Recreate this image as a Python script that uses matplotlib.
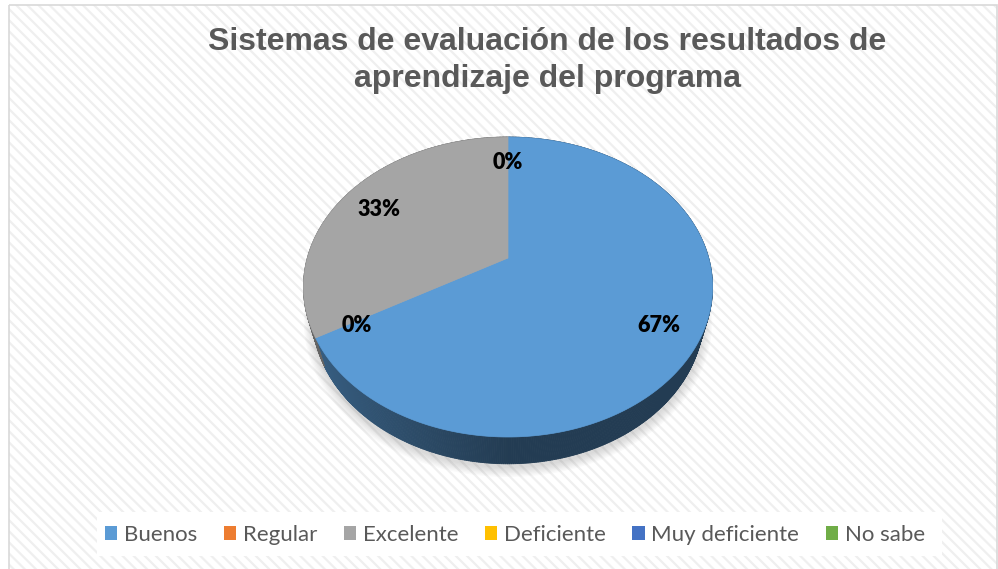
import numpy as np
import matplotlib.pyplot as plt
from matplotlib.patches import Rectangle, Polygon, Patch
from matplotlib.collections import PolyCollection

# data
categories = ["Buenos", "Regular", "Excelente", "Deficiente", "Muy deficiente", "No sabe"]
counts = [2, 0, 1, 0, np.nan, np.nan]   # last two have no data (no label shown)
colors = ["#5B9BD5", "#ED7D31", "#A5A5A5", "#FFC000", "#4472C4", "#70AD47"]
title_lines = ["Sistemas de evaluación de los resultados de", "aprendizaje del programa"]

# view settings for the Excel-like 3d pie (pixels of the 998x569 image)
CX, CY, SCALE = 508, 258, 200.7
TILT = np.radians(46)
DIST = 3.59
DEPTH = 0.22

plt.rcParams["hatch.linewidth"] = 1.6


def project(theta, r=1.0, w=0.0):
    # disk point (angle, radius, height) -> image pixels, with perspective
    u = r * np.cos(theta)
    v = r * np.sin(theta)
    y3 = v * np.sin(TILT) + w * np.cos(TILT)
    d = v * np.cos(TILT) - w * np.sin(TILT)
    k = DIST / (DIST + d)
    return CX + SCALE * u * k, CY - SCALE * y3 * k


def shade(theta):
    # side lighting: lighter on the left, dark at the front/right
    return 0.39 + 0.25 * np.clip(-np.cos(theta), 0, 1)


def scale_color(c, f):
    rgb = np.array(plt.matplotlib.colors.to_rgb(c))
    return tuple(np.clip(rgb * f, 0, 1))


vals = np.nan_to_num(np.array(counts, dtype=float))
frac = vals / vals.sum()
ends = 90 - 360 * np.cumsum(frac)      # clockwise from 12 o'clock
starts = ends + 360 * frac

fig = plt.figure(figsize=(9.98, 5.69), dpi=100)
ax = fig.add_axes([0, 0, 1, 1])
ax.set_xlim(0, 998)
ax.set_ylim(569, 0)
ax.axis("off")

# chart area background with the light diagonal texture
ax.add_patch(Rectangle((9, 5), 988, 580, facecolor="white", edgecolor="none"))
ax.add_patch(Rectangle((9, 5), 988, 580, facecolor="none", edgecolor="#efefef",
                       hatch="\\" * 3, lw=0))
ax.add_patch(Rectangle((9, 5), 988, 580, facecolor="none", edgecolor="#d9d9d9", lw=1.2))

# soft shadow under the pie
tt = np.linspace(0, 2 * np.pi, 200)
for i in range(8):
    sx, sy = project(tt, 1.0 + 0.006 * i, -DEPTH)
    ax.add_patch(Polygon(np.column_stack([sx, sy + 4]), closed=True,
                         facecolor="#808080", edgecolor="none", alpha=0.04))

# sides of the slices
quads, qcols = [], []
for i in range(len(categories)):
    if frac[i] <= 0:
        continue
    th = np.radians(np.linspace(ends[i], starts[i], int(abs(starts[i] - ends[i])) * 2 + 2))
    for a, b in zip(th[:-1], th[1:]):
        x1, y1 = project(a)
        x2, y2 = project(b)
        x3, y3 = project(b, w=-DEPTH)
        x4, y4 = project(a, w=-DEPTH)
        quads.append([(x1, y1), (x2, y2), (x3, y3), (x4, y4)])
        qcols.append(scale_color(colors[i], shade(0.5 * (a + b))))
ax.add_collection(PolyCollection(quads, facecolors=qcols, edgecolors=qcols, linewidths=0.6))

# top faces
for i in range(len(categories)):
    if frac[i] <= 0:
        continue
    th = np.radians(np.linspace(ends[i], starts[i], 300))
    px, py = project(th)
    pts = np.column_stack([np.r_[CX, px], np.r_[CY, py]])
    ax.add_patch(Polygon(pts, closed=True, facecolor=colors[i], edgecolor=colors[i], lw=0.5))

# percentage labels
for i in range(len(categories)):
    if np.isnan(counts[i]):
        continue
    mid = np.radians(0.5 * (ends[i] + starts[i]))
    lx, ly = project(mid, 0.8)
    ax.text(lx, ly + 5, f"{frac[i] * 100:.0f}%", ha="center", va="center",
            fontsize=15.5, fontweight="heavy", family="Lato", color="black")

# title, two lines
for j, line in enumerate(title_lines):
    fig.text(547 / 998, 1 - (50 + 36.7 * j) / 569, line, ha="center", va="baseline",
             fontsize=23, fontweight="bold", family="Liberation Sans", color="#595959")

# legend in a white band
ax.add_patch(Rectangle((97, 512), 845, 44, facecolor="white", edgecolor="none"))
handles = [Patch(facecolor=c, edgecolor="none", label=l) for c, l in zip(colors, categories)]
fig.legend(handles=handles, loc="center", bbox_to_anchor=(515 / 998, 1 - 535 / 569),
           ncol=6, frameon=False, handlelength=0.55, handleheight=0.55,
           handletextpad=0.3, columnspacing=1.2,
           prop={"family": "Lato", "size": 16}, labelcolor="#595959")

fig.savefig("out.png", dpi=100)
